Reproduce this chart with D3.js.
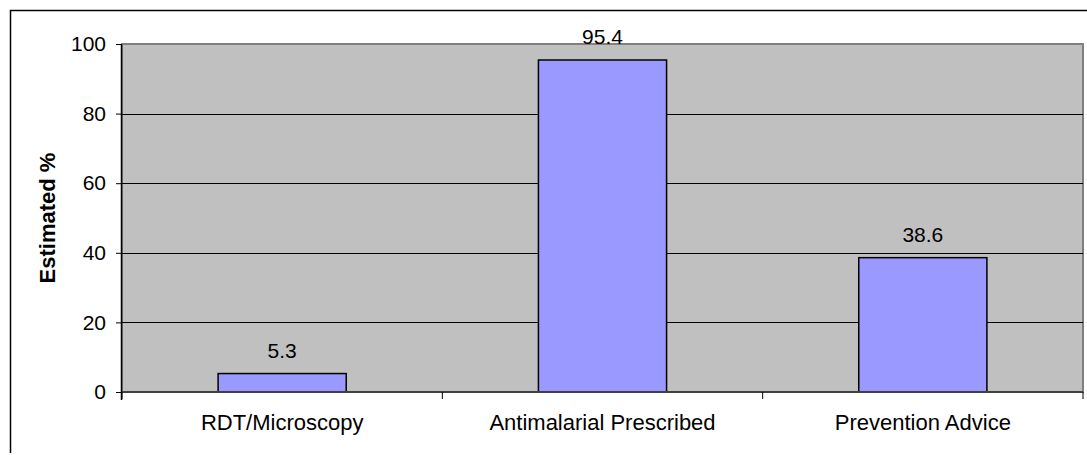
<!DOCTYPE html>
<html><head><meta charset="utf-8">
<script src="https://cdn.jsdelivr.net/npm/d3@7"></script>
<style>body{margin:0;background:#fff}svg{display:block}text{font-family:"Liberation Sans",Arial,sans-serif;fill:#000}</style>
</head><body>
<svg id="c" width="1087" height="455"></svg>
<script>
const categories = ["RDT/Microscopy", "Antimalarial Prescribed", "Prevention Advice"];
const values = [5.3, 95.4, 38.6];
const yTicks = [0, 20, 40, 60, 80, 100];
const yTitle = "Estimated %";

const svg = d3.select("#c");
const m = {left:122, right:1083, top:44, bottom:392};
const x = d3.scaleBand().domain(categories).range([m.left, m.right]).paddingInner(0.6).paddingOuter(0.3);
const xb = d3.scaleBand().domain(categories).range([m.left, m.right]);
const y = d3.scaleLinear().domain([0, 100]).range([m.bottom, m.top]);

// outer frame (top and left only visible)
svg.append("path").attr("d", "M10.5,453 V10.5 H1087").attr("fill","none").attr("stroke","#000").attr("stroke-width",1.5);

// plot bg
svg.append("rect").attr("x", m.left).attr("y", m.top).attr("width", m.right-m.left).attr("height", m.bottom-m.top)
  .attr("fill","#c0c0c0").attr("stroke","#808080").attr("stroke-width",2);

// gridlines
svg.append("g").selectAll("line").data(yTicks.filter(d=>d>0 && d<100)).join("line")
  .attr("x1", m.left).attr("x2", m.right).attr("y1", d=>Math.round(y(d))+0.5).attr("y2", d=>Math.round(y(d))+0.5)
  .attr("stroke","#000").attr("stroke-width",1);

// bars
svg.append("g").selectAll("rect").data(values).join("rect")
  .attr("x", (d,i)=>x(categories[i])).attr("width", x.bandwidth())
  .attr("y", d=>y(d)).attr("height", d=>y(0)-y(d))
  .attr("fill","#9999ff").attr("stroke","#000").attr("stroke-width",1.5);

// value labels
svg.append("g").selectAll("text").data(values).join("text")
  .attr("x", (d,i)=>x(categories[i])+x.bandwidth()/2).attr("y", d=>y(d)-16)
  .attr("text-anchor","middle").attr("font-size",21).text(d=>d.toFixed(1));

// y axis
const ya = d3.axisLeft(y).tickValues(yTicks).tickSize(6).tickPadding(10);
const gy = svg.append("g").attr("transform",`translate(${m.left},0)`).call(ya);
gy.select(".domain").attr("stroke","#000").attr("stroke-width",1.5).attr("d",`M-0.5,${m.top} V${m.bottom+8}`);
gy.selectAll(".tick line").attr("stroke","#000");
gy.selectAll(".tick text").attr("font-size",21).attr("font-family","Liberation Sans, Arial, sans-serif").attr("fill","#000");

// x axis
const gx = svg.append("g").attr("transform",`translate(0,${m.bottom})`);
gx.append("line").attr("x1",m.left).attr("x2",m.right).attr("stroke","#404040").attr("stroke-width",2);
const edges = categories.map(c=>xb(c)).concat([m.right]);
gx.selectAll("line.t").data(edges).join("line").attr("class","t")
  .attr("x1",d=>d).attr("x2",d=>d).attr("y1",0).attr("y2",7).attr("stroke","#000");
gx.selectAll("text").data(categories).join("text")
  .attr("x", d=>xb(d)+xb.bandwidth()/2).attr("y", 38)
  .attr("text-anchor","middle").attr("font-size",22).text(d=>d);

// y title
svg.append("text").attr("transform",`translate(55,${(m.top+m.bottom)/2}) rotate(-90)`)
  .attr("text-anchor","middle").attr("font-size",22).attr("font-weight","bold").text(yTitle);
</script>
</body></html>
